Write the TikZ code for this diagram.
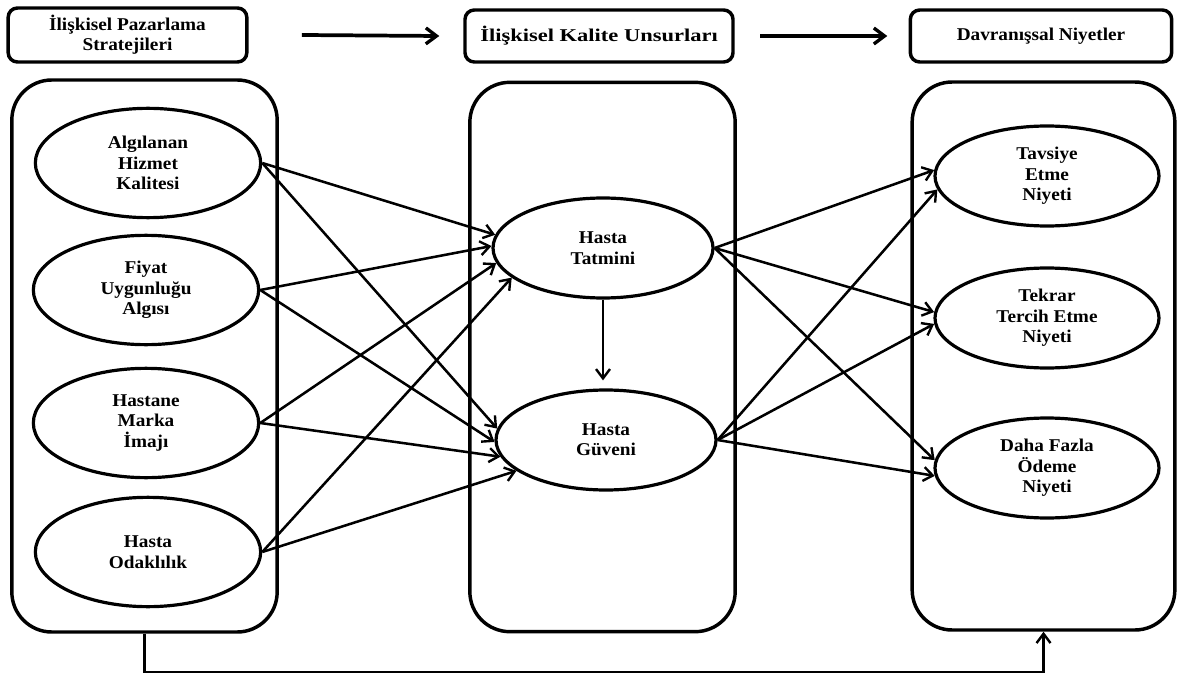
\documentclass[tikz,border=0pt]{standalone}
\usepackage{fontspec}
\setmainfont{Liberation Serif}
\newfontfamily\stretchA{Liberation Serif}[FakeStretch=1.07]
\newfontfamily\stretchB{Liberation Serif}[FakeStretch=1.25]
\usetikzlibrary{arrows.meta,shapes.geometric}
\begin{document}
\begin{tikzpicture}[x=0.75pt,y=-0.75pt,
  hdr/.style={draw,line width=2.6pt,rounded corners=7pt,align=center,font=\stretchA\bfseries\fontsize{13.5}{15}\selectfont,inner sep=0pt},
  bigbox/.style={draw,line width=2.6pt,rounded corners=30pt,inner sep=0pt},
  ell/.style={draw,ellipse,line width=2.4pt,inner sep=0pt,align=center,font=\stretchA\bfseries\fontsize{13.5}{15.3}\selectfont},
  lell/.style={ell,minimum width=169pt,minimum height=82pt},
  mell/.style={ell,minimum width=165pt,minimum height=75pt},
  rell/.style={ell,minimum width=168pt,minimum height=75pt},
  arr/.style={line width=1.9pt,-{Straight Barb[length=7pt,width=10.5pt,line width=1.8pt]}},
  harr/.style={line width=2.8pt,-{Straight Barb[length=8pt,width=12pt,line width=2.5pt]}}
]
\useasboundingbox (0,0) rectangle (1180,684);
% headers
\node[hdr,minimum width=179pt,minimum height=40.5pt] (h1) at (127.5,35) {İlişkisel Pazarlama\\Stratejileri};
\node[hdr,minimum width=201pt,minimum height=39pt,font=\stretchB\bfseries\fontsize{13.5}{15}\selectfont] (h2) at (599,36) {İlişkisel Kalite Unsurları};
\node[hdr,minimum width=196pt,minimum height=39pt] (h3) at (1041,36) {Davranışsal Niyetler};
\draw[harr] ([xshift=40pt]h1.east) -- ([xshift=-18pt]h2.west);
\draw[harr] ([xshift=19pt]h2.east) -- ([xshift=-16pt]h3.west);
% big boxes
\node[bigbox,minimum width=199pt,minimum height=414pt] (L) at (144.5,356) {};
\node[bigbox,minimum width=199pt,minimum height=412pt] (M) at (602.5,357) {};
\node[bigbox,minimum width=197pt,minimum height=411pt] (R) at (1043.5,356) {};
% left ellipses
\node[lell] (a1) at (148,163) {Algılanan\\Hizmet\\Kalitesi};
\node[lell] (a2) at (146,290) {Fiyat\\Uygunluğu\\Algısı};
\node[lell] (a3) at (146,423) {Hastane\\Marka\\İmajı};
\node[lell] (a4) at (148,552) {Hasta\\Odaklılık};
% middle
\node[mell] (tat) at (603,248) {Hasta\\Tatmini};
\node[mell] (guv) at (606,440) {Hasta\\Güveni};
% right
\node[rell] (r1) at (1047,176) {Tavsiye\\Etme\\Niyeti};
\node[rell] (r2) at (1047,318) {Tekrar\\Tercih Etme\\Niyeti};
\node[rell] (r3) at (1047,468) {Daha Fazla\\Ödeme\\Niyeti};
% left -> middle
\draw[arr] (a1.east) -- (tat.173.5);
\draw[arr] (a2.east) -- (tat.179.5);
\draw[arr] (a3.east) -- (tat.188);
\draw[arr] (a4.east) -- (tat.198);
\draw[arr] (a1.east) -- (guv.174.5);
\draw[arr] (a2.east) -- (guv.181.5);
\draw[arr] (a3.east) -- (guv.189);
\draw[arr] (a4.east) -- (guv.199);
% middle
\draw[arr,shorten >=6pt] (tat.south) -- (tat.south |- guv.north);
% middle -> right
\draw[arr] (tat.east) -- (r1.177);
\draw[arr] (tat.east) -- (r2.177);
\draw[arr] (tat.east) -- (r3.176);
\draw[arr] (guv.east) -- (r1.187);
\draw[arr] (guv.east) -- (r2.183);
\draw[arr] (guv.east) -- (r3.184.5);
% bottom
\coordinate (bot) at (0,672);
\draw[arr] (L.south) -- (L.south |- bot) -| (R.south);
\end{tikzpicture}
\end{document}
